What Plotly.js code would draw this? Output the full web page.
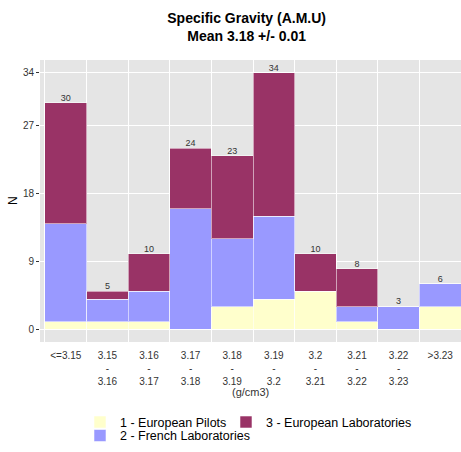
<!DOCTYPE html>
<html><head><meta charset="utf-8">
<script src="https://cdn.plot.ly/plotly-3.0.1.min.js"></script>
<style>body{margin:0;padding:0;background:#fff}#chart{width:461px;height:452px}</style>
</head><body><div id="chart"></div>
<script>
const categories = ["<=3.15","3.15<br>-<br>3.16","3.16<br>-<br>3.17","3.17<br>-<br>3.18","3.18<br>-<br>3.19","3.19<br>-<br>3.2","3.2<br>-<br>3.21","3.21<br>-<br>3.22","3.22<br>-<br>3.23",">3.23"];
const europeanPilots = [1,1,1,0,3,4,5,1,0,3];
const frenchLabs = [13,3,4,16,9,11,0,2,3,3];
const europeanLabs = [16,1,5,8,11,19,5,5,0,0];
const totals = [30,5,10,24,23,34,10,8,3,6];
const yTicks = [0,9,18,27,34];

const xs = categories.map((_, i) => i + 1);
const font = "Liberation Sans, Arial, sans-serif";
const outline = {color: "rgba(255,255,255,0.55)", width: 1};

const data = [
  {type:"bar", x: xs, y: europeanPilots, name:"1 - European Pilots", width:1, marker:{color:"#FFFFCC", line:outline}, legend:"legend"},
  {type:"bar", x: xs, y: frenchLabs, name:"2 - French Laboratories", width:1, marker:{color:"#9999FF", line:outline}, legend:"legend3"},
  {type:"bar", x: xs, y: europeanLabs, name:"3 - European Laboratories", width:1, marker:{color:"#993366", line:outline}, legend:"legend2"},
  {type:"scatter", mode:"text", x: xs, y: totals, text: totals.map(String), textposition:"top center", textfont:{family:font, size:9, color:"#333"}, showlegend:false, hoverinfo:"skip", cliponaxis:false}
];

const legBase = {orientation:"v", xanchor:"left", yanchor:"middle", font:{family:font, size:12.5, color:"#000"}, bgcolor:"rgba(0,0,0,0)"};
const py = px => (341.7 - px) / 281.7;

const layout = {
  width:461, height:452,
  margin:{l:40, r:0, t:60, b:110},
  paper_bgcolor:"#fff", plot_bgcolor:"#E5E5E5",
  barmode:"stack", bargap:0,
  font:{family:font, color:"#000"},
  title:{text:"<b>Specific Gravity (A.M.U)</b><br><b>Mean 3.18 +/- 0.01</b>", font:{family:font, size:14, color:"#000"}, x:0.535, xanchor:"center", y:0.949, yanchor:"top", yref:"container"},
  xaxis:{range:[0.38,10.5], tickmode:"array", tickvals:xs, ticktext:categories, showgrid:false, zeroline:false, ticks:"", ticklabelstandoff:6, automargin:false, tickfont:{family:font, size:10, color:"#333"},
         minor:{tick0:0.5, dtick:1, showgrid:true, gridcolor:"#fff", gridwidth:1}},
  yaxis:{range:[-1.7,35.7], tickmode:"array", tickvals:yTicks, ticktext:yTicks.map(String), showgrid:true, gridcolor:"#fff", gridwidth:1, zeroline:false, automargin:false, ticks:"outside", ticklen:3, tickcolor:"#333", tickfont:{family:font, size:10, color:"#333"}},
  annotations:[
    {text:"(g/cm3)", xref:"paper", yref:"paper", x:0.5, y:py(392), yanchor:"middle", xanchor:"center", showarrow:false, font:{family:font, size:11, color:"#333"}},
    {text:"N", xref:"paper", yref:"paper", x:-0.064, y:0.5, textangle:-90, xanchor:"center", yanchor:"middle", showarrow:false, font:{family:font, size:12, color:"#000"}}
  ],
  legend: Object.assign({}, legBase, {x:0.095, y:py(422)}),
  legend2: Object.assign({}, legBase, {x:0.4418, y:py(422)}),
  legend3: Object.assign({}, legBase, {x:0.095, y:py(435.5)}),
  showlegend:true
};

Plotly.newPlot("chart", data, layout, {displayModeBar:false, staticPlot:true});
</script></body></html>
